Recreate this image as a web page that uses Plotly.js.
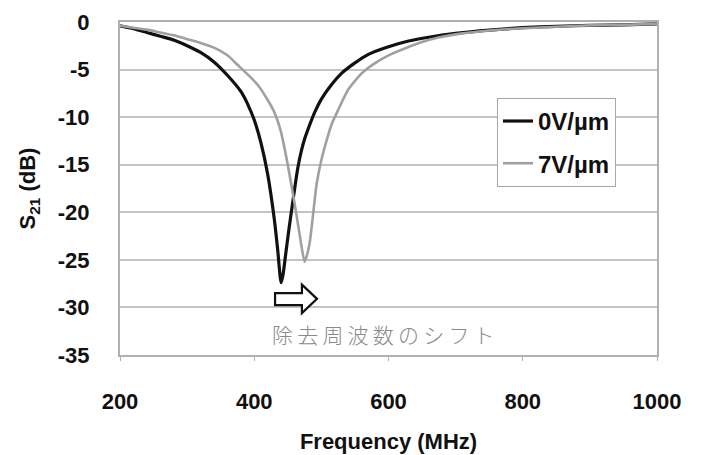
<!DOCTYPE html>
<html>
<head>
<meta charset="utf-8">
<script src="https://cdn.plot.ly/plotly-3.0.1.min.js"></script>
<style>html,body{margin:0;padding:0;background:#fff;}#chart{width:702px;height:455px;}</style>
</head>
<body>
<div id="chart"></div>
<script>
// Series 0 V/µm
const freq0 = [200,220,240,260,280,300,320,340,360,380,390,400,410,420,430,435,440,443,447,452,456,460,465,470,475,480,490,500,515,530,550,570,600,630,660,700,750,800,850,900,950,1000];
const s21_0 = [-0.4,-0.7,-1.1,-1.5,-1.9,-2.5,-3.2,-4.2,-5.6,-7.3,-8.6,-10.3,-12.7,-16.0,-20.8,-24.0,-27.4,-26.5,-24.3,-21.6,-19.6,-17.6,-15.3,-13.6,-12.3,-11.3,-9.5,-8.1,-6.6,-5.4,-4.3,-3.4,-2.6,-2.0,-1.6,-1.2,-0.85,-0.6,-0.45,-0.35,-0.3,-0.2];
// Series 7 V/µm
const freq7 = [200,220,240,260,280,300,320,340,360,375,390,405,420,430,440,448,455,463,470,475,479,483,488,493,500,508,515,524,540,560,576,600,627,650,676,700,750,800,850,900,950,1000];
const s21_7 = [-0.4,-0.6,-0.8,-1.1,-1.4,-1.8,-2.2,-2.7,-3.5,-4.5,-5.5,-6.6,-8.2,-9.5,-11.6,-14.3,-17.0,-20.3,-23.4,-25.2,-24.4,-23.0,-20.0,-17.0,-14.5,-12.4,-10.8,-9.4,-7.1,-5.4,-4.5,-3.5,-2.7,-2.1,-1.6,-1.3,-0.9,-0.65,-0.5,-0.35,-0.3,-0.2];
const seriesNames = ['0V/µm', '7V/µm'];
const xTicks = [200, 400, 600, 800, 1000];
const yTicks = [0, -5, -10, -15, -20, -25, -30, -35];
const noteText = '除\u2009去\u2009周\u2009波\u2009数\u2009の\u2009シ\u2009フ\u2009ト';

const boldFont = {family: 'Liberation Sans, Arial, sans-serif', size: 22, color: '#111', weight: 700};
const legendFont = {family: 'Liberation Sans, Arial, sans-serif', size: 24, color: '#111', weight: 700};

const traces = [
  {x: freq0, y: s21_0, mode: 'lines', name: seriesNames[0], legendgroup: 'a',
   line: {color: '#111', width: 3.2, shape: 'spline', smoothing: 0.6}},
  {x: freq7, y: s21_7, mode: 'lines', name: seriesNames[1], legendgroup: 'b',
   line: {color: '#a0a0a0', width: 2.6, shape: 'spline', smoothing: 0.6}}
];

const layout = {
  width: 702, height: 455,
  margin: {l: 120, r: 45, t: 22, b: 100},
  paper_bgcolor: '#fff', plot_bgcolor: '#fff',
  showlegend: true,
  legend: {x: 0.702, y: 0.772, xanchor: 'left', yanchor: 'top',
    bgcolor: '#fff', bordercolor: '#a8a8a8', borderwidth: 1,
    font: legendFont, traceorder: 'grouped', tracegroupgap: 8},
  xaxis: {range: [200, 1000], tickvals: xTicks, ticktext: xTicks.map(String),
    showgrid: false, zeroline: false, showline: true, mirror: true,
    linecolor: '#b0b0b0', linewidth: 2, ticks: 'outside', ticklen: 4, tickcolor: '#b0b0b0',
    tickfont: boldFont, ticklabelstandoff: 22,
    title: {text: 'Frequency (MHz)', font: boldFont, standoff: 20}},
  yaxis: {range: [-35, 0], tickvals: yTicks, ticktext: yTicks.map(String),
    showgrid: true, gridcolor: '#c4c4c4', gridwidth: 2, zeroline: false,
    showline: true, mirror: true, linecolor: '#b0b0b0', linewidth: 2, ticks: '',
    tickfont: boldFont, ticklabelstandoff: 24,
    title: {text: 'S<sub>21</sub> (dB)', font: boldFont, standoff: 16}},
  shapes: [
    {type: 'path', xref: 'x', yref: 'y',
     path: 'M 431,-28.5 L 471,-28.5 L 471,-27.6 L 493.5,-29.1 L 471,-30.6 L 471,-29.75 L 431,-29.75 Z',
     line: {color: '#111', width: 2.2}, fillcolor: '#fff'}
  ],
  annotations: [
    {xref: 'x', yref: 'y', x: 423, y: -32.8, xanchor: 'left', yanchor: 'middle',
     text: noteText, showarrow: false,
     font: {family: 'Noto Sans CJK JP, sans-serif', size: 21, color: '#8a8a8a', weight: 300}}
  ]
};

Plotly.newPlot('chart', traces, layout, {displayModeBar: false, staticPlot: true});
</script>
</body>
</html>
